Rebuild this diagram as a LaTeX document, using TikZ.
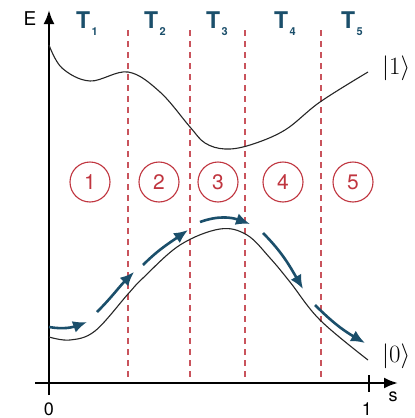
\documentclass[tikz,border=0pt]{standalone}
\usepackage{fontspec}
\setsansfont{TeX Gyre Heros}
\usetikzlibrary{arrows.meta}
\definecolor{redc}{HTML}{C0353F}
\definecolor{teal}{HTML}{1B4F6B}
\begin{document}
\begin{tikzpicture}[x=1pt,y=-1pt,
  axis/.style={line width=2.4pt,-{Latex[length=14pt,width=11pt]}},
  level/.style={line width=1.1pt,black!85},
  divider/.style={redc!85,line width=1.1pt,dash pattern=on 6pt off 5pt},
  region/.style={circle,draw=redc,line width=1.1pt,minimum size=40pt,inner sep=0pt,text=redc,font=\sffamily\fontsize{21}{21}\selectfont},
  tlabel/.style={text=teal,font=\sffamily\bfseries\fontsize{23}{23}\selectfont},
  seg/.style={teal,line width=2.6pt,-{Latex[length=14pt,width=12pt]}},
  axlabel/.style={font=\sffamily\fontsize{18}{18}\selectfont},
  ket/.style={font=\fontsize{25}{25}\selectfont,inner sep=0pt}]
\useasboundingbox (0,0) rectangle (415,418);
\fill[white] (0,0) rectangle (415,418);
% dividers
\foreach \x in {128,190,245,321} \draw[divider] (\x,30) -- (\x,383);
% axes
\coordinate (o) at (49,383);
\coordinate (ytop) at (49,10);
\coordinate (ybot) at (49,395);
\coordinate (xl) at (35,383);
\coordinate (xr) at (398,383);
\draw[axis] (ybot) -- (ytop);
\draw[axis] (xl) -- (xr);
\draw[line width=1.6pt] (369,375) -- (369,392);
\node[axlabel,font=\sffamily\fontsize{19}{19}\selectfont] (E) at (30,19) {E};
\node[axlabel] (s) at (393,397) {s};
\node[axlabel] (zero) at (49,409) {0};
\node[axlabel] (one) at (367,409) {1};
% T labels
\foreach \x/\n in {87/1,155/2,217/3,285/4,352/5}
  \node[tlabel] (T\n) at (\x,24) {T\kern1.5pt\raisebox{-7pt}{\fontsize{11}{11}\selectfont\n}};
% region circles
\foreach \x/\n in {90/1,159/2,218/3,283/4,353/5}
  \node[region] (r\n) at (\x,182) {\n};
% level curves
\draw[level] plot[smooth,tension=0.6] coordinates {(49,45) (62,68) (90,81) (128,72) (160,92) (190,127) (205,143) (225,149) (250,145) (285,130) (320,102) (368,72)};
\draw[level] plot[smooth,tension=0.6] coordinates {(49,337) (70,340) (95,331) (128,294) (143,278) (180,245) (220,229) (247,235) (270,258) (290,282) (320,320) (368,360)};
\node[ket,anchor=west] (k1) at (382,68) {$|1\rangle$};
\node[ket,anchor=west] (k0) at (382,356) {$|0\rangle$};
% arrows
\coordinate (a1s) at (49,327); \coordinate (a1e) at (87,322);
\coordinate (a2s) at (97,312); \coordinate (a2e) at (134,272);
\coordinate (a3s) at (143,265); \coordinate (a3e) at (188,230);
\coordinate (a4s) at (200,222); \coordinate (a4e) at (250,224);
\coordinate (a5s) at (263,233); \coordinate (a5e) at (303,289);
\coordinate (a6s) at (315,305); \coordinate (a6e) at (365,343);
\draw[seg] (a1s) to[out=-10,in=200] (a1e);
\draw[seg] (a2s) to[out=45,in=225] (a2e);
\draw[seg] (a3s) to[out=45,in=215] (a3e);
\draw[seg] (a4s) to[out=20,in=160] (a4e);
\draw[seg] (a5s) to[out=-45,in=120] (a5e);
\draw[seg] (a6s) to[out=-45,in=150] (a6e);
\end{tikzpicture}
\end{document}
